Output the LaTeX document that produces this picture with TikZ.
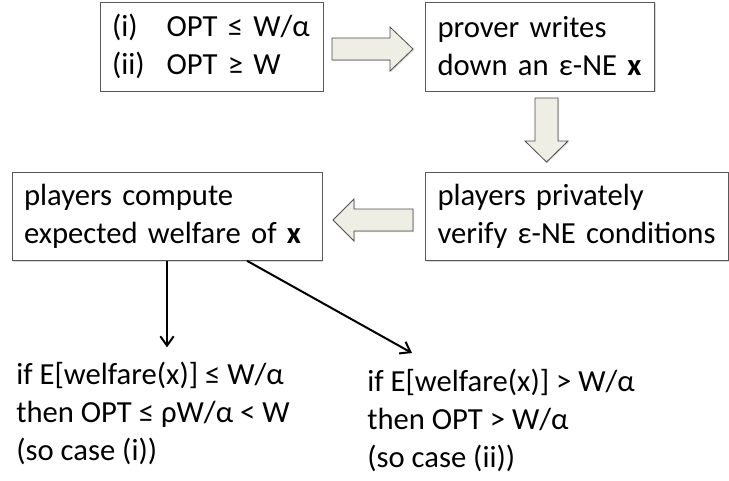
\documentclass[tikz,border=0pt]{standalone}
\usepackage{fontspec}
\setmainfont{Carlito}
\usetikzlibrary{positioning,calc,arrows.meta,shadows}
\definecolor{pfeilgrau}{RGB}{238,238,228}

\begin{document}
\begin{tikzpicture}
		[
		x=0.75pt, y=-0.75pt, font=\fontsize{23}{28.5}\selectfont, >={Straight Barb[length=7pt,width=10pt]},
		kasten/.style={draw=black!65, fill=white, rectangle, inner xsep=9pt, inner ysep=0pt, align=left,
			drop shadow={shadow xshift=0.8pt, shadow yshift=-0.8pt, opacity=0.3}},
		blockpfeil/.style={fill=pfeilgrau, draw=black!70, line width=0.6pt, line join=miter,
			drop shadow={shadow xshift=0.8pt, shadow yshift=-0.8pt, opacity=0.3}},
		fall/.style={align=left, inner sep=0pt}
		]
		
		%Rahmen
		\useasboundingbox (0,0) rectangle (729,480);
		
		%Kasten oben links
		\node[kasten, text width=149.25pt, minimum height=66.75pt] (bounds) at (211.5,46.5)
			{\makebox[41pt][l]{(i)}OPT ≤ W/α\\\makebox[41pt][l]{(ii)}OPT ≥ W};
		
		%Kasten oben rechts
		\node[kasten, text width=153.75pt, minimum height=66.75pt, right=76.5pt of bounds] (prover)
			{prover writes\\down an ε-NE \textbf{x}};
		
		%Kasten unten rechts
		\node[kasten, text width=209.25pt, minimum height=66pt, anchor=north west] (verify)
			at ($(prover.south west)+(0,81)$)
			{players privately\\verify ε-NE conditions};
		
		%Kasten unten links
		\node[kasten, text width=214.5pt, minimum height=66pt, left=77.25pt of verify] (compute)
			{players compute\\expected welfare of \textbf{x}};
		
		%Blockpfeil nach rechts
		\filldraw[blockpfeil] (332,38) -- ++(58,0) -- ++(0,-11) -- ++(23,22) -- ++(-23,22)
			-- ++(0,-11) -- ++(-58,0) -- cycle;
		
		%Blockpfeil nach unten
		\filldraw[blockpfeil] (535,98) -- ++(23,0) -- ++(0,43) -- ++(10,0) -- ++(-21.5,21)
			-- ++(-21.5,-21) -- ++(10,0) -- cycle;
		
		%Blockpfeil nach links
		\filldraw[blockpfeil] (413,209) -- ++(-59,0) -- ++(0,-10) -- ++(-21,21) -- ++(21,21)
			-- ++(0,-10) -- ++(59,0) -- cycle;
		
		%die beiden Fälle
		\node[fall, anchor=north west] (caseone) at (16,362)
			{if E[welfare(x)] ≤ W/α\\then OPT ≤ ρW/α < W\\(so case (i))};
		\node[fall, anchor=north west] (casetwo) at (367,369)
			{if E[welfare(x)] > W/α\\then OPT > W/α\\(so case (ii))};
		
		\draw[->, line width=1.5pt] (compute.south) -- (compute.south |- caseone.north) [shorten >=11pt];
		\draw[->, line width=1.5pt] ($(compute.south)+(80,0)$) -- ($(casetwo.north west)+(45,-16)$);
		
	\end{tikzpicture}
\end{document}
